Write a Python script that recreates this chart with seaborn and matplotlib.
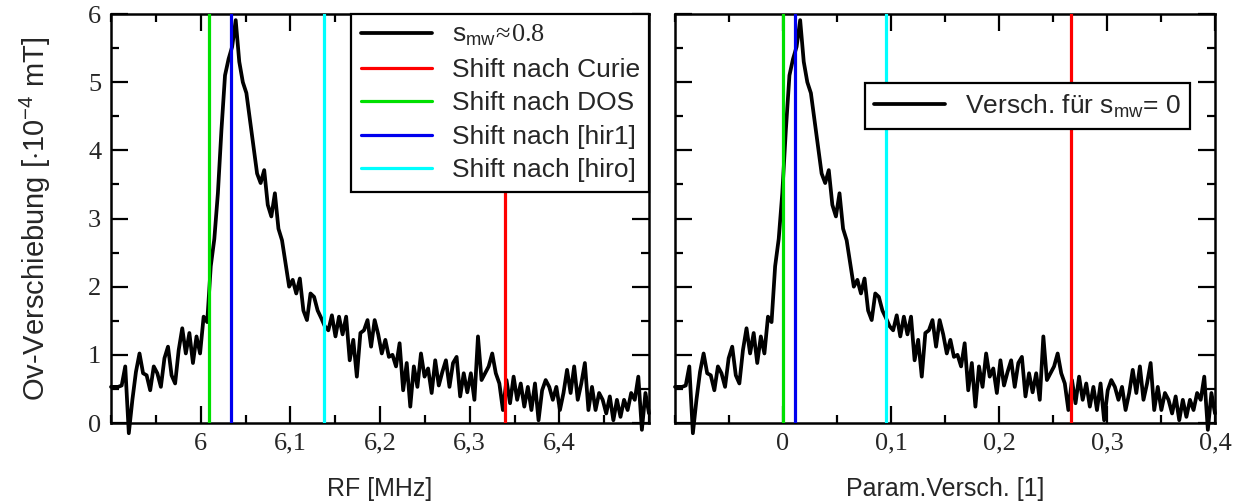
import numpy as np
import matplotlib
matplotlib.use('Agg')
import matplotlib.pyplot as plt
from matplotlib.ticker import FixedLocator, FixedFormatter, MultipleLocator
import seaborn as sns

# Shift signal (10^-4 mT) on an even grid
SIGNAL = [0.53, 0.53, 0.53, 0.55, 0.83, -0.15, 0.34, 0.75, 1.02, 0.73,
          0.70, 0.48, 0.83, 0.73, 0.53, 0.95, 1.12, 0.70, 0.58, 1.07,
          1.39, 1.02, 1.32, 0.88, 1.27, 1.02, 1.56, 1.48, 2.30, 2.70,
          3.37, 4.30, 5.10, 5.34, 5.52, 5.91, 5.30, 5.00, 4.84, 4.45,
          4.05, 3.66, 3.52, 3.71, 3.20, 3.03, 3.37, 2.85, 2.68, 2.34,
          2.00, 2.10, 1.90, 2.12, 1.65, 1.51, 1.90, 1.85, 1.65, 1.54,
          1.42, 1.36, 1.58, 1.27, 1.56, 1.30, 1.56, 0.92, 1.22, 0.68,
          1.32, 1.36, 1.51, 1.12, 1.51, 1.30, 1.02, 1.22, 0.97, 1.00,
          0.83, 1.17, 0.48, 0.88, 0.24, 0.83, 0.53, 1.02, 0.68, 0.80,
          0.44, 0.92, 0.55, 0.75, 0.92, 0.53, 0.88, 0.97, 0.39, 0.73,
          0.45, 0.73, 0.34, 1.27, 0.63, 0.73, 0.83, 1.02, 0.73, 0.58,
          0.19, 0.63, 0.29, 0.68, 0.34, 0.58, 0.24, 0.53, 0.19, 0.58,
          0.04, 0.48, 0.63, 0.53, 0.34, 0.53, 0.19, 0.44, 0.78, 0.44,
          0.83, 0.34, 0.58, 0.88, 0.19, 0.53, 0.19, 0.44, 0.34, 0.14,
          0.39, 0.04, 0.34, 0.09, 0.34, 0.19, 0.44, 0.34, 0.68, -0.10,
          0.44, 0.14]

RF_RANGE = (5.9, 6.5)
PARAM_RANGE = (-0.1, 0.4)

RF_TICKS = [6.0, 6.1, 6.2, 6.3, 6.4]
RF_TICK_LABELS = ['6', '6,1', '6,2', '6,3', '6,4']
PARAM_TICKS = [0.0, 0.1, 0.2, 0.3, 0.4]
PARAM_TICK_LABELS = ['0', '0,1', '0,2', '0,3', '0,4']
Y_TICKS = [0, 1, 2, 3, 4, 5, 6]
Y_TICK_LABELS = ['0', '1', '2', '3', '4', '5', '6']

SHIFT_NAMES = ['Shift nach Curie', 'Shift nach DOS', 'Shift nach [hir1]', 'Shift nach [hiro]']
SHIFT_COLORS = ['#ff0000', '#00e000', '#0000ee', '#00ffff']
SHIFT_RF = [6.339, 6.009, 6.034, 6.137]
SHIFT_PARAM = [0.2665, 0.0, 0.011, 0.0955]

sns.set_theme(style='ticks')
plt.rcParams['font.family'] = ['Liberation Sans', 'DejaVu Sans']
plt.rcParams['mathtext.fontset'] = 'custom'
plt.rcParams['mathtext.rm'] = 'Liberation Serif'
plt.rcParams['mathtext.sf'] = 'Liberation Sans'
plt.rcParams['axes.linewidth'] = 1.8

TICK_FONT = {'family': ['Liberation Serif', 'DejaVu Serif'], 'size': 19}
LABEL_FONT = {'family': ['Liberation Sans', 'DejaVu Sans'], 'size': 18}
YLABEL_FONT = {'family': ['Liberation Sans', 'DejaVu Sans'], 'size': 21}

fig = plt.figure(figsize=(12.49, 5.03), dpi=100)
fig.patch.set_facecolor('white')
ax1 = fig.add_axes([111 / 1249, 80 / 503, 538 / 1249, 409 / 503])
ax2 = fig.add_axes([675 / 1249, 80 / 503, 540 / 1249, 409 / 503])

rf = np.linspace(RF_RANGE[0], RF_RANGE[1], len(SIGNAL))
param = np.linspace(PARAM_RANGE[0], PARAM_RANGE[1], len(SIGNAL))


def style_axes(ax, xlim, ticks, labels, show_y):
    ax.set_facecolor('white')
    ax.set_xlim(*xlim)
    ax.set_ylim(0, 6)
    ax.xaxis.set_major_locator(FixedLocator(ticks))
    ax.xaxis.set_major_formatter(FixedFormatter(labels))
    ax.xaxis.set_minor_locator(MultipleLocator(0.05))
    ax.yaxis.set_major_locator(FixedLocator(Y_TICKS))
    ax.yaxis.set_minor_locator(MultipleLocator(0.5))
    if show_y:
        ax.yaxis.set_major_formatter(FixedFormatter(Y_TICK_LABELS))
    else:
        ax.set_yticklabels([])
    ax.tick_params(which='both', direction='in', top=True, right=True,
                   width=1.6, color='black')
    ax.tick_params(which='major', length=12, pad=7)
    ax.tick_params(which='minor', length=6)
    for lab in ax.get_xticklabels() + ax.get_yticklabels():
        lab.set_fontfamily(TICK_FONT['family'])
        lab.set_fontsize(TICK_FONT['size'])
    for sp in ax.spines.values():
        sp.set_color('black')
        sp.set_linewidth(1.8)


def boxed_legend(ax, anchor):
    leg = ax.legend(loc='upper right', bbox_to_anchor=anchor, borderaxespad=0,
                    fontsize=19, handlelength=2.7, handletextpad=0.75,
                    labelspacing=0.36, borderpad=0.35, fancybox=False,
                    framealpha=1, edgecolor='black')
    leg.get_frame().set_linewidth(1.6)
    leg.set_zorder(5)
    return leg


# left panel: RF
sns.lineplot(x=rf, y=SIGNAL, ax=ax1, color='black', linewidth=2.7,
             estimator=None, clip_on=False, zorder=2,
             label=r'$\mathsf{s_{mw}}\!\approx\!\mathrm{0.8}$')
for name, col, pos in zip(SHIFT_NAMES, SHIFT_COLORS, SHIFT_RF):
    ax1.axvline(pos, color=col, linewidth=2.3, zorder=3, label=name)
style_axes(ax1, RF_RANGE, RF_TICKS, RF_TICK_LABELS, True)
ax1.set_xlabel('RF [MHz]', fontdict=LABEL_FONT, labelpad=16)
ax1.set_ylabel(r'Ov-Verschiebung [$\cdot$10$^{\mathregular{-4}}$ mT]',
               fontdict=YLABEL_FONT, labelpad=25)
boxed_legend(ax1, (1, 1))

# right panel: parameter shift
sns.lineplot(x=param, y=SIGNAL, ax=ax2, color='black', linewidth=2.7,
             estimator=None, clip_on=False, zorder=2,
             label=r'Versch. für s$_{\mathregular{mw}}$= 0')
for col, pos in zip(SHIFT_COLORS, SHIFT_PARAM):
    ax2.axvline(pos, color=col, linewidth=2.3, zorder=3)
style_axes(ax2, PARAM_RANGE, PARAM_TICKS, PARAM_TICK_LABELS, False)
ax2.set_xlabel('Param.Versch. [1]', fontdict=LABEL_FONT, labelpad=16)
ax2.set_ylabel('')
boxed_legend(ax2, (0.954, 0.831))

fig.savefig('out.png', dpi=100, facecolor='white')
